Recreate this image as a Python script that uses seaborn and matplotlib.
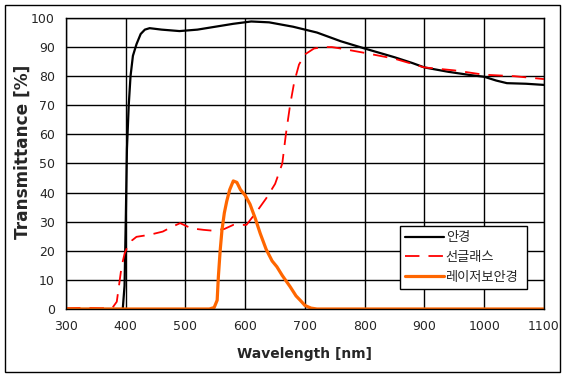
import matplotlib.pyplot as plt
import seaborn as sns
import pandas as pd
from matplotlib.patches import Rectangle

# 안경 (clear glasses)
glass_wl = [300, 390, 395, 398, 400, 402, 405, 408, 412, 418, 425, 432, 440, 460, 490, 520, 550,
            580, 610, 640, 680, 720, 760, 800, 825, 850, 880, 900, 940, 976, 1000, 1020, 1038,
            1070, 1100]
glass_t = [0, 0, 0, 8, 30, 55, 70, 80, 87, 91, 94.5, 96, 96.5, 96, 95.5, 96, 97,
           98, 98.8, 98.5, 97, 95, 92, 89.5, 88, 86.5, 84.5, 83, 81.5, 80.4, 79.8, 78.5, 77.6,
           77.4, 77]

# 선글래스 (sunglasses)
sun_wl = [300, 330, 360, 378, 385, 393, 398, 402, 410, 418, 440, 462, 475, 491, 510, 530, 546,
          565, 580, 602, 619, 635, 650, 662, 668, 675, 682, 690, 700, 715, 730, 745, 760, 800,
          850, 880, 900, 950, 1000, 1050, 1100]
sun_t = [0.3, 0.4, 0.3, 0.5, 2.5, 14.5, 19, 21, 23.5, 24.8, 25.5, 26.6, 28, 29.5, 27.7, 27.2, 26.9,
         27.5, 28.9, 28.9, 33.4, 38, 43, 50, 60, 70, 78, 84, 87.5, 89.5, 90, 90, 89.5, 88,
         86, 84.2, 83, 82, 80.5, 80, 79]

# 레이저보안경 (laser safety glasses)
laser_wl = [300, 540, 548, 553, 555, 558, 561, 565, 569, 574, 580, 586, 592, 600, 608, 617, 625,
            635, 645, 653, 662, 675, 685, 692, 700, 710, 720, 1100]
laser_t = [0, 0, 0.5, 3, 11, 20, 27, 33, 37, 41, 44, 43.5, 41, 39, 36, 31, 26,
           20.5, 16.5, 14.5, 11.5, 7.7, 4.5, 3, 1.2, 0.3, 0, 0]

series = [
    ("안경", glass_wl, glass_t, "black", 1.6, "-"),
    ("선글래스", sun_wl, sun_t, "#FF0000", 1.3, (0, (8, 5))),
    ("레이저보안경", laser_wl, laser_t, "#FF6600", 2.3, "-"),
]

sns.set_style("white")
plt.rcParams["font.family"] = ["DejaVu Sans", "Noto Sans CJK KR"]

fig = plt.figure(figsize=(5.66, 3.77), dpi=100)
ax = fig.add_axes([0.1166, 0.1804, 0.8445, 0.7719])

for name, wl, t, color, lw, ls in series:
    df = pd.DataFrame({"wl": wl, "t": t})
    sns.lineplot(data=df, x="wl", y="t", ax=ax, color=color, lw=lw,
                 linestyle=ls, label=name)

ax.set_xlim(300, 1100)
ax.set_ylim(0, 100)
ax.set_xticks(range(300, 1101, 100))
ax.set_yticks(range(0, 101, 10))
ax.grid(True, color="black", lw=1.0)
ax.set_axisbelow(True)
for s in ax.spines.values():
    s.set_color("black")
    s.set_linewidth(1.0)
ax.tick_params(axis="both", length=0, labelsize=9, pad=8)

ax.set_xlabel("Wavelength [nm]", fontsize=10, fontweight="bold")
ax.set_ylabel("Transmittance [%]", fontsize=12.2, fontweight="bold")
ax.xaxis.set_label_coords(0.499, -0.13)
ax.yaxis.set_label_coords(-0.071, 0.54)

leg = ax.legend(loc="upper left", bbox_to_anchor=(0.699, 0.0, 0.265, 0.285),
                mode="expand", borderaxespad=0, frameon=True, fancybox=False,
                borderpad=0.4, labelspacing=0.5, handlelength=2.9, handletextpad=0.15,
                prop={"family": ["Noto Sans CJK KR", "DejaVu Sans"], "size": 9.5})
leg.get_frame().set_edgecolor("black")
leg.get_frame().set_linewidth(1.0)
leg.get_frame().set_alpha(1.0)

fig.patches.append(Rectangle((0.0088, 0.0133), 0.9806, 0.9735, transform=fig.transFigure,
                             fill=False, edgecolor="black", lw=1.0))

fig.savefig("out.png", dpi=100)
